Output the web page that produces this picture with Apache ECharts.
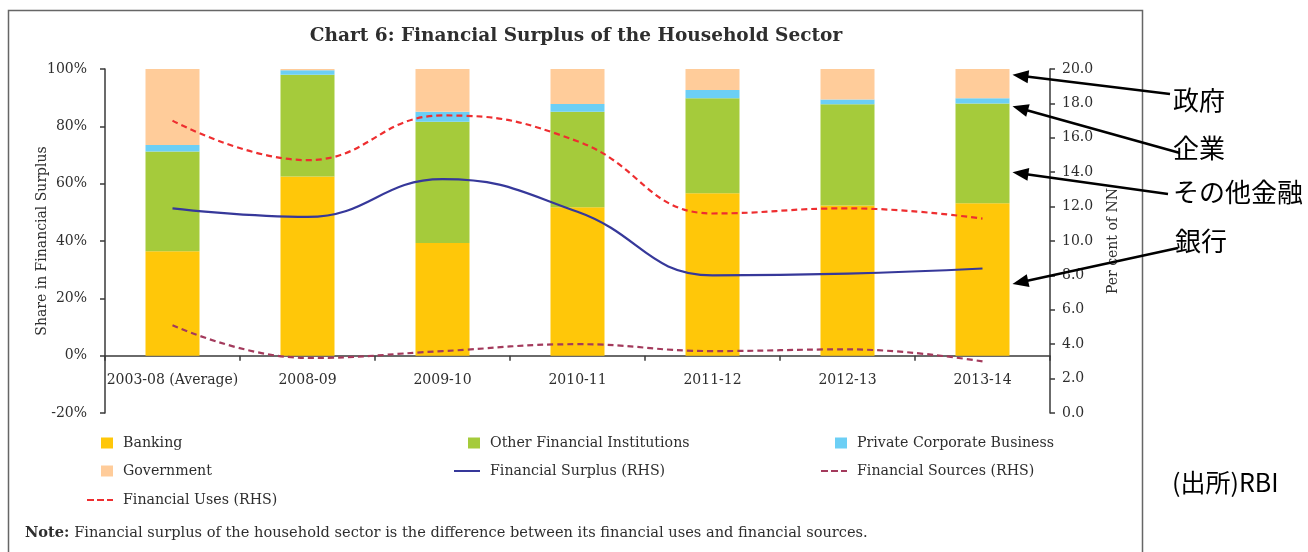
<!DOCTYPE html>
<html>
<head>
<meta charset="utf-8">
<script src="https://cdn.jsdelivr.net/npm/echarts@6/dist/echarts.min.js"></script>
<style>
  html, body { margin: 0; padding: 0; background: #fff; }
  #chart { width: 1308px; height: 552px; }
</style>
</head>
<body>
<div id="chart"></div>
<script>
// ---- data ----
const categories = ['2003-08 (Average)', '2008-09', '2009-10', '2010-11', '2011-12', '2012-13', '2013-14'];
// shares in financial surplus (%), stacked
const banking          = [36.4, 62.5, 39.3, 51.8, 56.7, 52.4, 53.2];
const otherFinancial   = [34.8, 35.5, 42.3, 33.3, 33.1, 35.3, 34.8];
const privateCorporate = [2.3, 1.6, 3.5, 2.7, 2.9, 1.7, 1.8];
const government       = [26.5, 0.4, 14.9, 12.2, 7.3, 10.6, 10.2];
// per cent of NNI (right-hand scale)
const financialSurplus = [11.9, 11.4, 13.6, 11.7, 8.0, 8.1, 8.4];
const financialSources = [5.1, 3.2, 3.6, 4.0, 3.6, 3.7, 3.0];
const financialUses    = [17.0, 14.7, 17.3, 15.8, 11.6, 11.9, 11.3];
// axis ranges [min, max, step]
const leftAxisRange  = [-20, 100, 20];
const rightAxisRange = [0, 20, 2];
// callouts on the last bar: label and the share (%) each arrow points at
const calloutLabels  = ['政府', '企業', 'その他金融', '銀行'];
const calloutTargets = [98, 87, 64, 25];

// ---- styling / layout ----
const SERIF = '"DejaVu Serif", "Liberation Serif", serif';
const CJK = '"Noto Sans CJK JP", sans-serif';
const TEXT = '#2e2e2e';
const AXIS = '#3a3a3a';
const COLORS = {
  banking: '#FFC709',
  other: '#A5CB3B',
  corp: '#6CCFF5',
  gov: '#FFCC9A',
  surplus: '#36389A',
  sources: '#A33A5C',
  uses: '#EE2E30'
};
const GRID = { left: 105, right: 258, top: 69, bottom: 139 };
const CHART_H = 552;
// label boxes for the callouts (left x, centre y) and where each arrow leaves the label
const calloutText = [[1173, 100], [1173, 148], [1173, 192], [1175, 241]];
const calloutTail = [[1170, 94], [1180, 153], [1168, 194], [1178, 248]];

// legend glyphs: small square for bars, dashed / solid strokes for lines
const ICON_SOLID  = 'path://M0,0h26v2h-26z';
const ICON_DASHED = 'path://M0,0h7v2h-7zM10,0h7v2h-7zM20,0h6v2h-6z';

const chart = echarts.init(document.getElementById('chart'), null, { renderer: 'canvas' });

function legendItem(name, textLeft, rowY, kind) {
  const isLine = kind !== 'bar';
  return {
    data: [{ name: name, icon: kind === 'bar' ? 'rect' : (kind === 'dashed' ? ICON_DASHED : ICON_SOLID) }],
    left: textLeft - (isLine ? 36 : 22),
    top: rowY - 8,
    padding: 0,
    itemWidth: isLine ? 26 : 12,
    itemHeight: isLine ? 2.2 : 11,
    selectedMode: false,
    textStyle: { fontFamily: SERIF, fontSize: 14.2, color: TEXT, padding: [0, 0, 0, 5], lineHeight: 16 }
  };
}

const COL = [123, 490, 857];
const ROW = [443, 471, 499];

const barSeries = (name, data, color) => ({
  name: name, type: 'bar', stack: 'share', data: data, barWidth: '40%',
  itemStyle: { color: color }, z: 2
});
const lineSeries = (name, data, color, dashed, width) => ({
  name: name, type: 'line', yAxisIndex: 1, data: data, smooth: 0.45,
  symbol: 'none', z: 5,
  lineStyle: { color: color, width: width, type: dashed ? [6, 4] : 'solid' },
  itemStyle: { color: color }
});

// the category axis sits on the 0% line of the left scale
const gridH = CHART_H - GRID.top - GRID.bottom;
const zeroOffset = -gridH * (0 - leftAxisRange[0]) / (leftAxisRange[1] - leftAxisRange[0]);

const option = {
  animation: false,
  backgroundColor: '#fff',
  grid: { left: GRID.left, right: GRID.right, top: GRID.top, bottom: GRID.bottom, containLabel: false },
  legend: [
    legendItem('Banking', COL[0], ROW[0], 'bar'),
    legendItem('Other Financial Institutions', COL[1], ROW[0], 'bar'),
    legendItem('Private Corporate Business', COL[2], ROW[0], 'bar'),
    legendItem('Government', COL[0], ROW[1], 'bar'),
    legendItem('Financial Surplus (RHS)', COL[1], ROW[1], 'solid'),
    legendItem('Financial Sources (RHS)', COL[2], ROW[1], 'dashed'),
    legendItem('Financial Uses (RHS)', COL[0], ROW[2] + 1, 'dashed')
  ],
  xAxis: {
    type: 'category',
    data: categories,
    position: 'bottom',
    offset: zeroOffset,
    axisLine: { onZero: false, lineStyle: { color: AXIS, width: 1.5 } },
    axisTick: { show: true, length: 5, lineStyle: { color: AXIS, width: 1.5 } },
    axisLabel: { fontFamily: SERIF, fontSize: 14, color: TEXT, margin: 18, interval: 0 },
    splitLine: { show: false }
  },
  yAxis: [
    {
      type: 'value', position: 'left',
      min: leftAxisRange[0], max: leftAxisRange[1], interval: leftAxisRange[2],
      name: 'Share in Financial Surplus', nameLocation: 'middle', nameGap: 56, nameRotate: 90,
      nameMoveOverlap: false,
      nameTextStyle: { fontFamily: SERIF, fontSize: 14, color: TEXT },
      axisLine: { show: true, lineStyle: { color: AXIS, width: 1.5 } },
      axisTick: { show: true, length: 5, lineStyle: { color: AXIS, width: 1.5 } },
      axisLabel: { fontFamily: SERIF, fontSize: 14, color: TEXT, margin: 18, formatter: v => v + '%' },
      splitLine: { show: false }
    },
    {
      type: 'value', position: 'right',
      min: rightAxisRange[0], max: rightAxisRange[1], interval: rightAxisRange[2],
      name: 'Per cent of NN', nameLocation: 'middle', nameGap: 56, nameRotate: 90,
      nameMoveOverlap: false,
      nameTextStyle: { fontFamily: SERIF, fontSize: 14, color: TEXT },
      axisLine: { show: true, lineStyle: { color: AXIS, width: 1.5 } },
      axisTick: { show: true, length: 5, lineStyle: { color: AXIS, width: 1.5 } },
      axisLabel: { fontFamily: SERIF, fontSize: 14, color: TEXT, margin: 12, formatter: v => v.toFixed(1) },
      splitLine: { show: false }
    }
  ],
  series: [
    barSeries('Banking', banking, COLORS.banking),
    barSeries('Other Financial Institutions', otherFinancial, COLORS.other),
    barSeries('Private Corporate Business', privateCorporate, COLORS.corp),
    barSeries('Government', government, COLORS.gov),
    lineSeries('Financial Surplus (RHS)', financialSurplus, COLORS.surplus, false, 2.2),
    lineSeries('Financial Sources (RHS)', financialSources, COLORS.sources, true, 2.2),
    lineSeries('Financial Uses (RHS)', financialUses, COLORS.uses, true, 2.2)
  ]
};

chart.setOption(option);

// ---- frame, title, note and callout arrows ----
const last = categories.length - 1;
const xLast = chart.convertToPixel({ xAxisIndex: 0 }, last);
const xPrev = chart.convertToPixel({ xAxisIndex: 0 }, last - 1);
const barRight = xLast + (xLast - xPrev) * 0.4 / 2;

const graphics = [
  {
    type: 'rect', z: 0, silent: true,
    shape: { x: 8.5, y: 10.5, width: 1134, height: 620 },
    style: { fill: 'none', stroke: '#666', lineWidth: 1.5 }
  },
  {
    type: 'text', x: 576, y: 36, z: 10,
    style: {
      text: 'Chart 6: Financial Surplus of the Household Sector',
      font: 'bold 18.5px ' + SERIF, fill: TEXT, textAlign: 'center', textVerticalAlign: 'middle'
    }
  },
  {
    type: 'text', x: 25, y: 533, z: 10,
    style: {
      text: '{b|Note:} Financial surplus of the household sector is the difference between its financial uses and financial sources.',
      font: '14.6px ' + SERIF, fill: TEXT, textVerticalAlign: 'middle',
      rich: { b: { fontFamily: SERIF, fontSize: 14.6, fontWeight: 'bold', fill: TEXT } }
    }
  },
  {
    type: 'text', x: 1172, y: 482, z: 10,
    style: { text: '(出所)RBI', font: '25px ' + CJK, fill: '#000', textVerticalAlign: 'middle' }
  }
];

calloutLabels.forEach((label, i) => {
  const tipX = barRight + 3;
  const tipY = chart.convertToPixel({ yAxisIndex: 0 }, calloutTargets[i]);
  const [tx, ty] = calloutTail[i];
  const dx = tipX - tx, dy = tipY - ty;
  const len = Math.sqrt(dx * dx + dy * dy);
  const ux = dx / len, uy = dy / len;
  const nx = -uy, ny = ux;
  const L = 16, W = 6.5;
  const bx = tipX - ux * L, by = tipY - uy * L;
  graphics.push({
    type: 'line', z: 10, silent: true,
    shape: { x1: tx, y1: ty, x2: tipX - ux * (L - 2), y2: tipY - uy * (L - 2) },
    style: { stroke: '#000', lineWidth: 2.5 }
  });
  graphics.push({
    type: 'polygon', z: 10, silent: true,
    shape: { points: [[tipX, tipY], [bx + nx * W, by + ny * W], [bx - nx * W, by - ny * W]] },
    style: { fill: '#000' }
  });
  graphics.push({
    type: 'text', x: calloutText[i][0], y: calloutText[i][1], z: 11,
    style: { text: label, font: '26px ' + CJK, fill: '#000', textVerticalAlign: 'middle' }
  });
});

chart.setOption({ graphic: graphics });
</script>
</body>
</html>
